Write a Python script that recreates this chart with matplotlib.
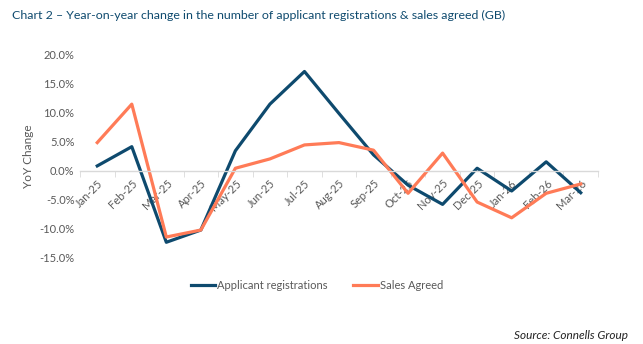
import matplotlib.pyplot as plt
import numpy as np

# data
months = ["Jan-25", "Feb-25", "Mar-25", "Apr-25", "May-25", "Jun-25", "Jul-25", "Aug-25",
          "Sep-25", "Oct-25", "Nov-25", "Dec-25", "Jan-26", "Feb-26", "Mar-26"]
applicant_registrations = [0.8, 4.1, -12.3, -10.2, 3.4, 11.4, 17.0, 9.8,
                           2.7, -2.5, -5.8, 0.4, -3.5, 1.5, -3.8]
sales_agreed = [4.8, 11.4, -11.4, -10.2, 0.4, 2.0, 4.4, 4.8,
                3.5, -3.9, 3.0, -5.4, -8.1, -3.9, -2.3]

BLUE = "#0E4A6E"
ORANGE = "#FF7B57"
GREY = "#595959"

plt.rcParams['font.family'] = ['Lato', 'DejaVu Sans']

fig = plt.figure(figsize=(6.43, 3.44), dpi=100)
ax = fig.add_axes([0.1244, 0.25, 0.8056, 0.593])

# axis line sits at zero (set before tick styling, it resets ticks)
for s in ["top", "right", "left"]:
    ax.spines[s].set_visible(False)
ax.spines["bottom"].set_position(("data", 0))
ax.spines["bottom"].set_color("#D9D9D9")
ax.spines["bottom"].set_linewidth(1)

x = np.arange(len(months))
ax.plot(x, applicant_registrations, color=BLUE, lw=2.3, label="Applicant registrations")
ax.plot(x, sales_agreed, color=ORANGE, lw=2.3, label="Sales Agreed")

ax.set_xlim(-0.5, len(months) - 0.5)
ax.set_ylim(-15, 20)
ax.set_yticks(np.arange(-15, 21, 5))
ax.set_yticklabels([f"{v:.1f}%" for v in np.arange(-15, 21, 5)], color=GREY, fontsize=8)
ax.set_ylabel("YoY Change", color=GREY, fontsize=8.5, labelpad=4)

# category labels at centres, small tick marks at boundaries
ax.set_xticks(x)
ax.set_xticklabels(months, rotation=45, ha="right", rotation_mode="anchor", color=GREY, fontsize=8)
ax.set_xticks(np.arange(-0.5, len(months)), minor=True)
ax.tick_params(axis="x", which="major", length=0, pad=5)
ax.tick_params(axis="x", which="minor", length=4, color="#D9D9D9", direction="out")
ax.tick_params(axis="y", length=0, pad=4)

fig.text(0.019, 0.955, "Chart 2 \u2013 Year-on-year change in the number of applicant registrations & sales agreed (GB)",
         color="#0E4A6E", fontsize=8.9, va="center", ha="left")

fig.legend(loc="center", bbox_to_anchor=(0.493, 0.171), ncol=2, frameon=False, fontsize=8,
           labelcolor=GREY, handlelength=2.2, handletextpad=0.2, columnspacing=2.3)

fig.text(0.977, 0.026, "Source: Connells Group", style="italic", fontsize=8.5,
         color="#222222", ha="right", va="center")

fig.savefig("out.png", dpi=100)
